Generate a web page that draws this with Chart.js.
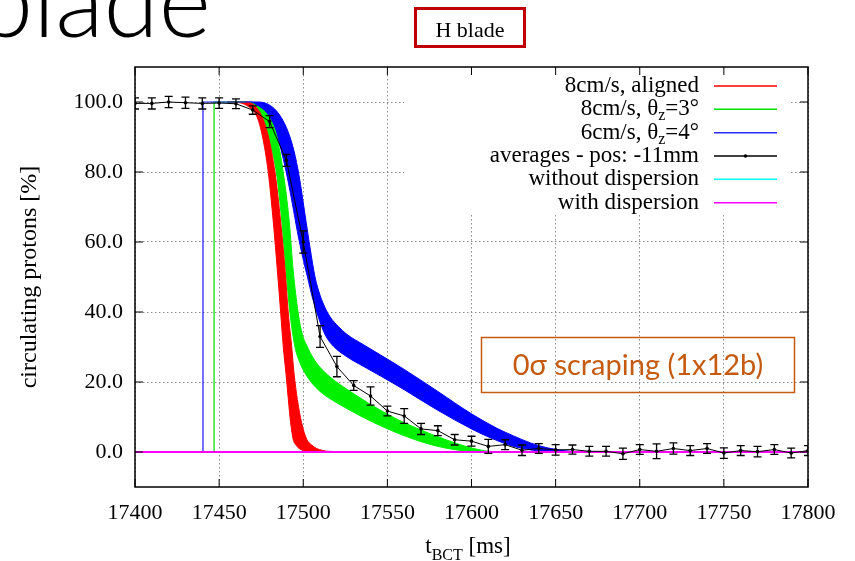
<!DOCTYPE html>
<html>
<head>
<meta charset="utf-8">
<script src="https://cdn.jsdelivr.net/npm/chart.js@4.4.1/dist/chart.umd.min.js"></script>
<style>
  html, body { margin: 0; padding: 0; background: #fff; }
  canvas { display: block; }
</style>
</head>
<body>
<canvas id="chart" width="855" height="561"></canvas>
<script>
// averages - pos: -11mm (time in ms, value in %, half error in %)
const avgTimes = [17400, 17410, 17420, 17430, 17440, 17450, 17460, 17470, 17480, 17490,
  17500, 17510, 17520, 17530, 17540, 17550, 17560, 17570, 17580, 17590,
  17600, 17610, 17620, 17630, 17640, 17650, 17660, 17670, 17680, 17690,
  17700, 17710, 17720, 17730, 17740, 17750, 17760, 17770, 17780, 17790, 17800];
const avgValues = [99.6, 99.6, 100.0, 99.8, 99.6, 99.7, 99.5, 97.7, 94.4, 83.3,
  60.0, 33.0, 24.4, 19.0, 16.0, 11.7, 10.3, 6.6, 6.1, 3.5,
  3.1, 1.6, 2.1, 0.5, 1.0, 0.6, 0.7, 0.2, 0.2, -0.5,
  0.7, 0.2, 1.0, 0.4, 1.0, -0.3, 0.4, 0.1, 0.7, -0.3, 0.4];
const avgErrors = [1.6, 1.6, 1.6, 1.6, 1.6, 1.5, 1.4, 1.2, 1.7, 1.7,
  3.2, 3.1, 2.9, 1.4, 2.6, 1.4, 2.1, 1.6, 1.4, 1.5,
  1.4, 2.0, 1.4, 1.5, 1.4, 1.5, 1.3, 1.4, 1.4, 1.6,
  1.4, 2.1, 1.6, 1.4, 1.4, 1.5, 1.4, 1.5, 1.4, 1.4, 1.4];

// 8cm/s, aligned (band edges)
const redLowT = [17455, 17462, 17468, 17472.3, 17475.7, 17479.2, 17482.2, 17484.6, 17486.6, 17488.1, 17489.7, 17492.5, 17494, 17496, 17498, 17502, 17508, 17530];
const redLowV = [100, 99.8, 98.5, 96, 90.3, 79.9, 65.7, 52, 39.7, 30.2, 22.6, 8.4, 3.7, 1.8, 0.85, 0.2, 0, 0];
const redHighT = [17455, 17466, 17471, 17475.3, 17479.2, 17483.2, 17486.6, 17489.2, 17491.1, 17493.1, 17494.5, 17496.5, 17499, 17502, 17505, 17508, 17515, 17530];
const redHighV = [100, 100, 99, 96, 90.3, 79.9, 65.7, 52, 39.7, 30.2, 22.6, 15, 8.4, 3.7, 2, 1.0, 0.2, 0];

// 8cm/s, θz=3°
const greenLowT = [17455, 17465, 17470, 17475.3, 17479.2, 17484, 17487.2, 17489.7, 17492.1, 17495, 17498, 17501, 17505, 17510, 17516, 17526, 17536, 17546, 17556, 17566, 17576, 17586, 17596, 17605, 17620];
const greenLowV = [100, 99.8, 98.5, 96, 90.3, 79.9, 66.2, 52, 39.7, 30.2, 25.5, 22.6, 19.8, 17.3, 15.2, 12.4, 9.8, 7.5, 5.4, 3.6, 2.1, 1.0, 0.3, 0, 0];
const greenHighT = [17455, 17467, 17472, 17479.2, 17484.2, 17488.1, 17491.7, 17494, 17497, 17499.5, 17502, 17506, 17510, 17516, 17526, 17536, 17546, 17556, 17566, 17576, 17586, 17596, 17605, 17612, 17620];
const greenHighV = [100, 100, 99, 96, 90.3, 79.9, 65.7, 52, 39.7, 33.5, 30.5, 26.8, 24.2, 21.4, 17.9, 14.8, 11.9, 9.3, 7.1, 5.1, 3.3, 1.7, 0.6, 0.1, 0];

// 6cm/s, θz=4°
const blueLowT = [17455, 17466, 17472, 17477, 17481, 17484.5, 17487.5, 17490.5, 17493.5, 17496.5, 17499.5, 17502.5, 17505.5, 17509, 17513, 17518, 17526, 17536, 17546, 17560, 17580, 17600, 17612, 17625, 17635, 17645, 17655];
const blueLowV = [100, 100, 98.8, 96.8, 94, 90.3, 85, 78.5, 71, 63, 56, 50, 44, 38.5, 33.5, 30.2, 27.2, 24.4, 21.7, 17.8, 11.9, 6.6, 3.9, 1.6, 0.6, 0.1, 0];
const blueHighT = [17455, 17472, 17478, 17483, 17487, 17491, 17494.5, 17497.5, 17501, 17504, 17507, 17510, 17513, 17516, 17521, 17526, 17536, 17546, 17560, 17580, 17600, 17615, 17625, 17635, 17645, 17655, 17665];
const blueHighV = [100, 100, 99.6, 98, 95.5, 91.5, 86, 79, 68, 58.5, 50, 44.8, 41.2, 38.6, 35.8, 33.6, 30.6, 27.7, 23.6, 17.3, 10.9, 6.8, 4.6, 2.6, 1.2, 0.4, 0];

// thin start lines (t, %)
const blueStartT = [17440.4, 17440.4, 17470];
const blueStartV = [0, 100, 100];
const greenStartT = [17447, 17447, 17466];
const greenStartV = [0, 100, 100];

// without / with dispersion
const zeroT = [17400, 17800];
const zeroV = [0, 0];

const xTickValues = [17400, 17450, 17500, 17550, 17600, 17650, 17700, 17750, 17800];
const yTickValues = [0, 20, 40, 60, 80, 100];

const legendLabels = [
  ['8cm/s, aligned'],
  ['8cm/s, θ', {sub: 'z'}, '=3°'],
  ['6cm/s, θ', {sub: 'z'}, '=4°'],
  ['averages - pos: -11mm'],
  ['without dispersion'],
  ['with dispersion']
];
const legendColors = ['#ff0000', '#00e600', '#2b2bff', '#000000', '#00ffff', '#ff00ff'];

const RED = '#ff0000', GREEN = '#00f000', BLUE = '#0000ff';
const serif = '"Liberation Serif", "Times New Roman", serif';

function pts(ts, vs) {
  return ts.map((t, i) => ({x: t, y: vs[i]}));
}

function band(ts, vs, color, order, fill) {
  return {
    data: pts(ts, vs),
    borderColor: color,
    backgroundColor: color,
    borderWidth: 1,
    cubicInterpolationMode: 'monotone',
    pointRadius: 0,
    fill: fill,
    order: order
  };
}

// draw text pieces with subscripts, aligned at rx
function drawParts(ctx, parts, rx, y, size, align) {
  const big = size + 'px ' + serif;
  const small = Math.round(size * 0.68) + 'px ' + serif;
  let w = 0;
  parts.forEach(p => {
    ctx.font = typeof p === 'string' ? big : small;
    w += ctx.measureText(typeof p === 'string' ? p : p.sub).width;
  });
  let x = align === 'center' ? rx - w / 2 : rx - w;
  ctx.textAlign = 'left';
  parts.forEach(p => {
    if (typeof p === 'string') {
      ctx.font = big;
      ctx.fillText(p, x, y);
      x += ctx.measureText(p).width;
    } else {
      ctx.font = small;
      ctx.fillText(p.sub, x, y + size * 0.3);
      x += ctx.measureText(p.sub).width;
    }
  });
}

const extras = {
  id: 'extras',
  beforeDatasetsDraw(chart) {
    const {ctx} = chart;
    ctx.save();
    // opaque key box
    ctx.fillStyle = '#fff';
    ctx.fillRect(404, 71, 386, 143);
    ctx.textBaseline = 'middle';
    const rowY = [86, 109.3, 132.7, 156, 179.3, 202.7];
    legendLabels.forEach((parts, i) => {
      ctx.fillStyle = '#000';
      drawParts(ctx, parts, 699, rowY[i], 23, 'right');
      ctx.strokeStyle = legendColors[i];
      ctx.lineWidth = 1.5;
      ctx.beginPath();
      ctx.moveTo(714, rowY[i]);
      ctx.lineTo(777, rowY[i]);
      ctx.stroke();
      if (i === 3) {
        ctx.fillStyle = '#000';
        ctx.beginPath();
        ctx.arc(745.5, rowY[i], 1.8, 0, Math.PI * 2);
        ctx.fill();
      }
    });
    ctx.restore();
  },
  afterDatasetsDraw(chart) {
    const {ctx, chartArea: a, scales: {x, y}} = chart;
    // error bars on the averages
    ctx.save();
    ctx.beginPath();
    ctx.rect(a.left, a.top, a.right - a.left, a.bottom - a.top);
    ctx.clip();
    ctx.strokeStyle = '#000';
    ctx.lineWidth = 1.3;
    avgTimes.forEach((t, i) => {
      const px = x.getPixelForValue(t);
      const lo = y.getPixelForValue(avgValues[i] - avgErrors[i]);
      const hi = y.getPixelForValue(avgValues[i] + avgErrors[i]);
      ctx.beginPath();
      ctx.moveTo(px, lo); ctx.lineTo(px, hi);
      ctx.moveTo(px - 4, lo); ctx.lineTo(px + 4, lo);
      ctx.moveTo(px - 4, hi); ctx.lineTo(px + 4, hi);
      ctx.stroke();
    });
    ctx.restore();

    // frame and inward ticks
    ctx.save();
    ctx.strokeStyle = '#000';
    ctx.lineWidth = 1.5;
    ctx.strokeRect(a.left, a.top, a.right - a.left, a.bottom - a.top);
    ctx.lineWidth = 1;
    ctx.beginPath();
    xTickValues.forEach(v => {
      const px = x.getPixelForValue(v);
      ctx.moveTo(px, a.bottom); ctx.lineTo(px, a.bottom - 8);
      ctx.moveTo(px, a.top); ctx.lineTo(px, a.top + 8);
    });
    yTickValues.forEach(v => {
      const py = y.getPixelForValue(v);
      ctx.moveTo(a.left, py); ctx.lineTo(a.left + 8, py);
      ctx.moveTo(a.right, py); ctx.lineTo(a.right - 8, py);
    });
    ctx.stroke();
    ctx.restore();
  },
  afterDraw(chart) {
    const {ctx} = chart;
    ctx.save();
    // cropped slide title
    ctx.fillStyle = '#000';
    ctx.textAlign = 'left';
    ctx.textBaseline = 'alphabetic';
    ctx.font = '300 100px Lato, "Open Sans", sans-serif';
    ctx.fillText('blade', -22, 37);

    // H blade box
    ctx.strokeStyle = '#c00000';
    ctx.lineWidth = 3;
    ctx.strokeRect(415.5, 8.5, 109, 38);
    ctx.textAlign = 'center';
    ctx.textBaseline = 'middle';
    ctx.font = '22px ' + serif;
    ctx.fillText('H blade', 470, 31);

    // scraping note
    ctx.strokeStyle = '#c55a11';
    ctx.lineWidth = 1.5;
    ctx.strokeRect(481.5, 337.5, 313, 55);
    ctx.fillStyle = '#c55a11';
    ctx.font = '29px Lato, "Open Sans", sans-serif';
    ctx.fillText('0σ scraping (1x12b)', 638, 366);

    // x axis title with subscript
    ctx.fillStyle = '#000';
    ctx.textBaseline = 'alphabetic';
    drawParts(ctx, ['t', {sub: 'BCT'}, ' [ms]'], 468, 553, 23, 'center');
    ctx.restore();
  }
};

const tickFont = {family: serif, size: 22};

new Chart(document.getElementById('chart'), {
  type: 'line',
  data: {
    datasets: [
      {data: pts(zeroT, zeroV), borderColor: '#00ffff', borderWidth: 1, pointRadius: 0, order: 3},
      {data: pts(zeroT, zeroV), borderColor: '#ff00ff', borderWidth: 2, pointRadius: 0, order: 2},
      band(blueLowT, blueLowV, BLUE, 9, false),
      band(blueHighT, blueHighV, BLUE, 9, '-1'),
      band(greenLowT, greenLowV, GREEN, 7, false),
      band(greenHighT, greenHighV, GREEN, 7, '-1'),
      band(redLowT, redLowV, RED, 5, false),
      band(redHighT, redHighV, RED, 5, '-1'),
      {data: pts(blueStartT, blueStartV), borderColor: '#1515ff', borderWidth: 1.2, pointRadius: 0, order: 4},
      {data: pts(greenStartT, greenStartV), borderColor: '#00e000', borderWidth: 1.2, pointRadius: 0, order: 4},
      {
        data: pts(avgTimes, avgValues),
        borderColor: '#000',
        backgroundColor: '#000',
        borderWidth: 1,
        pointRadius: 1.8,
        pointBorderWidth: 0,
        order: 0
      }
    ]
  },
  options: {
    animation: false,
    responsive: false,
    devicePixelRatio: 1,
    layout: {padding: {top: 67, right: 47, left: 0, bottom: 0}},
    plugins: {legend: {display: false}, tooltip: {enabled: false}},
    scales: {
      x: {
        type: 'linear',
        min: 17400,
        max: 17800,
        afterBuildTicks: s => { s.ticks = xTickValues.map(v => ({value: v})); },
        afterFit: s => { s.height = 74; },
        ticks: {callback: v => String(v), font: tickFont, color: '#000', padding: 13, maxRotation: 0, autoSkip: false},
        grid: {color: '#8c8c8c', lineWidth: 1, drawTicks: false},
        border: {display: false, dash: [1.5, 2.5]}
      },
      y: {
        type: 'linear',
        min: -10,
        max: 110,
        afterBuildTicks: s => { s.ticks = yTickValues.map(v => ({value: v})); },
        afterFit: s => { s.width = 135; },
        ticks: {callback: v => v.toFixed(1), font: tickFont, color: '#000', padding: 12, autoSkip: false},
        grid: {color: '#8c8c8c', lineWidth: 1, drawTicks: false},
        border: {display: false, dash: [1.5, 2.5]},
        title: {display: true, text: 'circulating protons [%]', font: {family: serif, size: 24}, color: '#000', padding: {top: 15}}
      }
    }
  },
  plugins: [extras]
});
</script>
</body>
</html>
